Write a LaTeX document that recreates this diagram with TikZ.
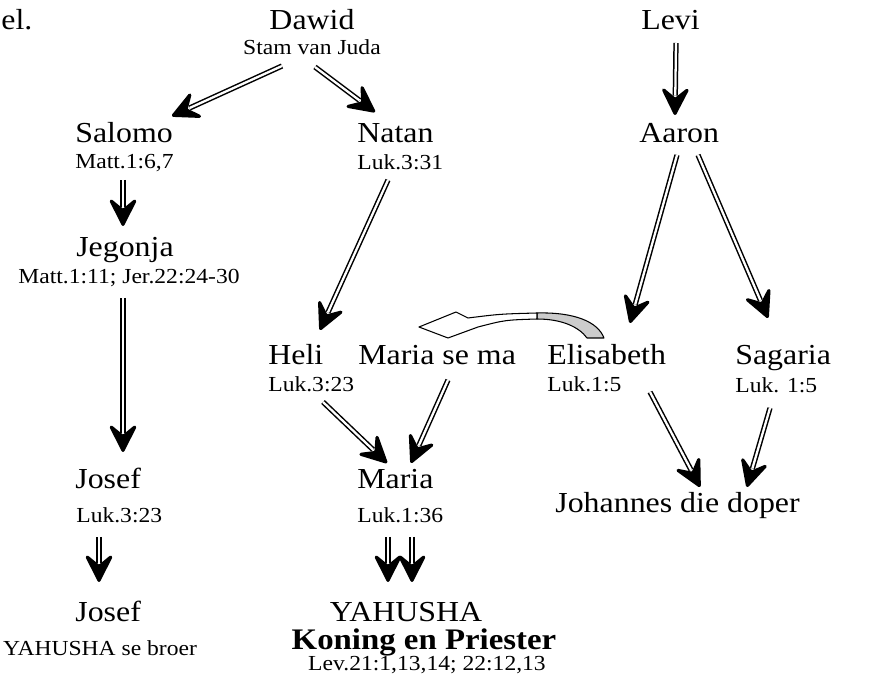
\documentclass[tikz,border=0pt]{standalone}
\usepackage{fontspec}
\setmainfont{Liberation Serif}[FakeStretch=1.1]
\usetikzlibrary{arrows.meta,positioning,calc}
\tikzset{
    person/.style={
        inner sep=0pt,
        font=\fontsize{16.5}{18}\selectfont,
    },
    verse/.style={
        inner sep=0pt,
        font=\fontsize{12.2}{14}\selectfont,
    },
    title/.style={
        inner sep=0pt,
        font=\fontsize{17}{19}\selectfont\bfseries,
    },
    arrowhead/.style={
        draw,
        line width=0.5pt,
        -{Stealth[length=18.5pt,width=18.5pt,inset=7.5pt,round,line width=1.8pt]},
    },
    descent/.style={
        draw,
        double,
        double distance=1.3pt,
        line width=0.85pt,
        shorten >=11pt,
    },
    swap/.style={
        draw=black,
        line width=0.6pt,
        line join=round,
    },
}
% double shaft, then a solid head on top of its end
\newcommand{\descend}[2]{%
    \draw [descent] #1 -- #2;
    \draw [arrowhead] ($#2!10pt!#1$) -- #2;
}

\begin{document}
\begin{tikzpicture}[x=0.02cm,y=-0.02cm]
    \useasboundingbox (0,0) rectangle (870,689);

    % tribe of Juda
    \node [person, anchor=base west] (kel) at (1,30) {el.};
    \node [person, anchor=base] (dawid) at (312,30) {Dawid};
    \node [verse, anchor=base] (stam) at (312,55) {Stam van Juda};

    \node [person, anchor=base west] (salomo) at (75,143) {Salomo};
    \node [verse, anchor=base west] (matt) at (75,169) {Matt.1:6,7};
    \node [person, anchor=base] (jegonja) at (125,257) {Jegonja};
    \node [verse, anchor=base] (jer) at (129,284) {Matt.1:11; Jer.22:24-30};
    \node [person, anchor=base west] (josefA) at (75,489) {Josef};
    \node [verse, anchor=base west] (lukA) at (76,523) {Luk.3:23};
    \node [person, anchor=base west] (josefB) at (75,622) {Josef};
    \node [verse, anchor=base] (broer) at (100,656) {YAHUSHA se broer};

    \node [person, anchor=base west] (natan) at (357,143) {Natan};
    \node [verse, anchor=base west] (lukB) at (357,170) {Luk.3:31};
    \node [person, anchor=base west] (heli) at (268,365) {Heli};
    \node [verse, anchor=base west] (lukC) at (268,392) {Luk.3:23};
    \node [person, anchor=base west] (mama) at (358,365) {Maria se ma};
    \node [person, anchor=base west] (maria) at (357,489) {Maria};
    \node [verse, anchor=base west] (lukD) at (357,523) {Luk.1:36};

    \node [person, anchor=base] (yahusha) at (406,622) {YAHUSHA};
    \node [title, anchor=base] (koning) at (424,649) {Koning en Priester};
    \node [verse, anchor=base] (lev) at (427,670) {Lev.21:1,13,14; 22:12,13};

    % tribe of Levi
    \node [person, anchor=base west] (levi) at (641,30) {Levi};
    \node [person, anchor=base west] (aaron) at (639,143) {Aaron};
    \node [person, anchor=base west] (elis) at (547,365) {Elisabeth};
    \node [verse, anchor=base west] (lukE) at (547,392) {Luk.1:5};
    \node [person, anchor=base west] (sag) at (735,365) {Sagaria};
    \node [verse, anchor=base west] (lukF) at (735,393) {Luk. 1:5};
    \node [person, anchor=base west] (joh) at (555,513) {Johannes die doper};

    \descend{([shift={(-30,11)}]stam.base)}{([shift={(97,-27)}]salomo.base west)}
    \descend{([shift={(3,12)}]stam.base)}{([shift={(18,-31)}]natan.base west)}
    \descend{([shift={(48,11)}]matt.base west)}{([shift={(-2,-31)}]jegonja.base)}
    \descend{([shift={(-6,14)}]jer.base)}{([shift={(48,-37)}]josefA.base west)}
    \descend{([shift={(23,14)}]lukA.base west)}{([shift={(24,-40)}]josefB.base west)}
    \descend{([shift={(31,10)}]lukB.base west)}{([shift={(52,-35)}]heli.base west)}
    \descend{([shift={(55,10)}]lukC.base west)}{([shift={(30,-26)}]maria.base west)}
    \descend{([shift={(90,15)}]mama.base west)}{([shift={(54,-26)}]maria.base west)}
    \descend{([shift={(31,14)}]lukD.base west)}{([shift={(-18,-40)}]yahusha.base)}
    \descend{([shift={(55,14)}]lukD.base west)}{([shift={(6,-40)}]yahusha.base)}

    \descend{([shift={(35,13)}]levi.base west)}{([shift={(36,-28)}]aaron.base west)}
    \descend{([shift={(38,12)}]aaron.base west)}{([shift={(83,-42)}]elis.base west)}
    \descend{([shift={(59,12)}]aaron.base west)}{([shift={(33,-47)}]sag.base west)}
    \descend{([shift={(103,27)}]elis.base west)}{([shift={(145,-26)}]joh.base west)}
    \descend{([shift={(35,15)}]lukF.base west)}{([shift={(192,-26)}]joh.base west)}

    % curved arrow from Elisabeth to Maria se ma
    \draw [swap, fill=gray!40] (537,313) .. controls (575,312) and (598,322) .. (604,338)
        -- (587,338) .. controls (579,327) and (562,319) .. (537,319) -- cycle;
    \draw [swap, fill=white] (419,327) -- (456,312) -- (468,318) .. controls (500,314) .. (537,313)
        -- (537,319) .. controls (505,320) .. (478,327) -- (448,338) -- cycle;
\end{tikzpicture}
\end{document}
